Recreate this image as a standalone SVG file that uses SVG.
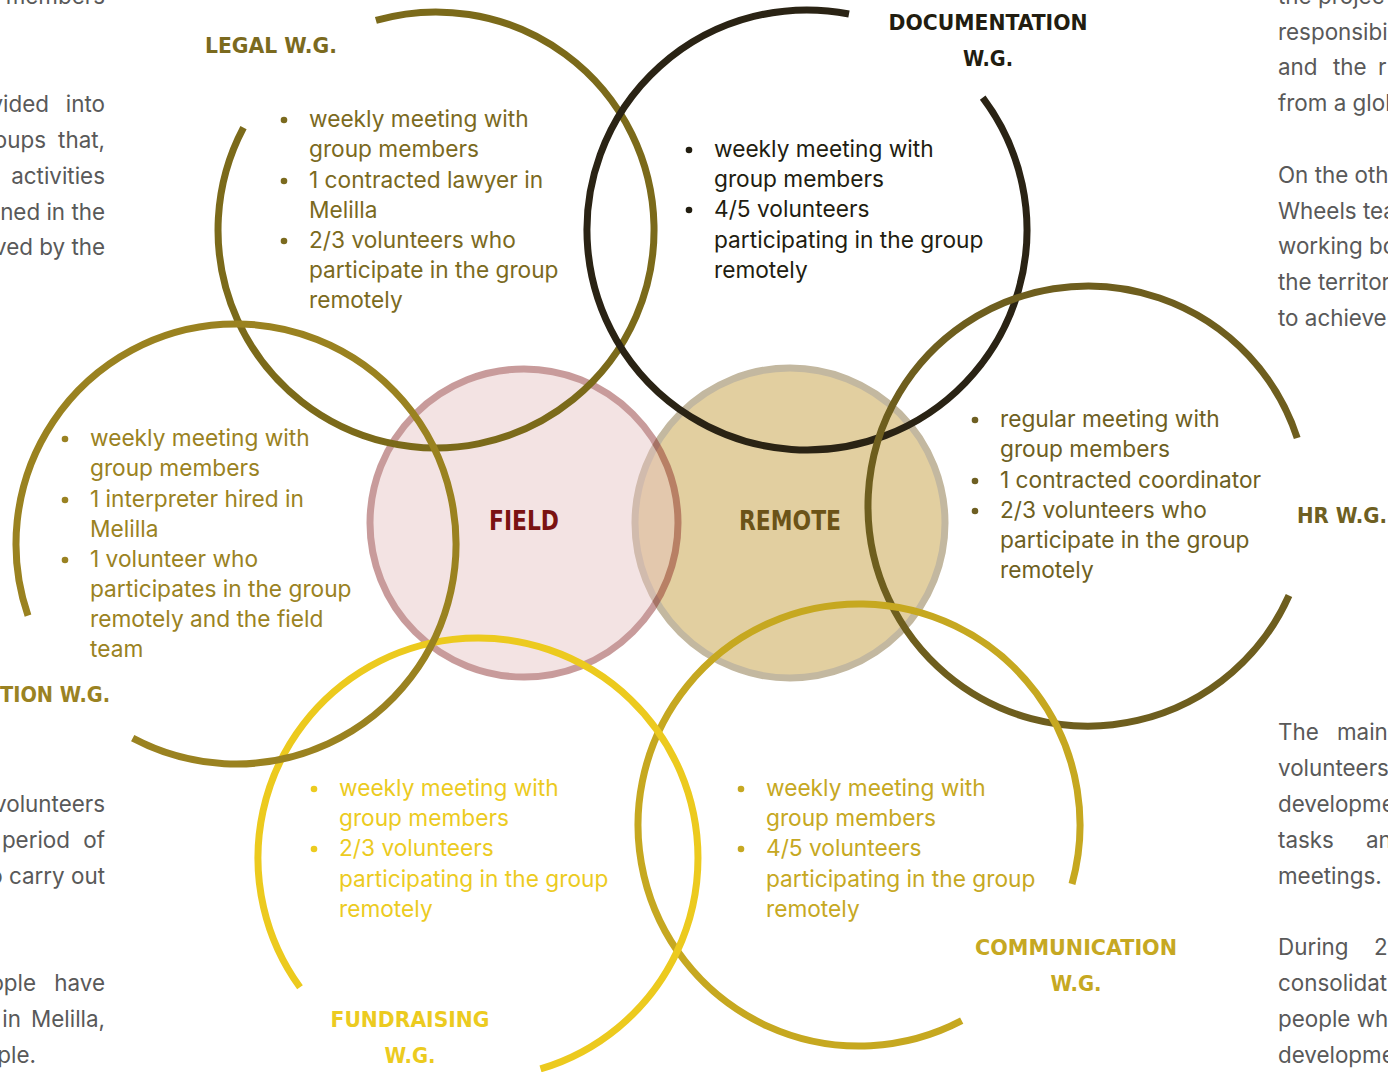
<svg xmlns="http://www.w3.org/2000/svg" width="1388" height="1072" viewBox="0 0 1388 1072">
<style>
.b{font-family:Inter,"Noto Sans","Liberation Sans",sans-serif;font-size:22.7px}
.s{font-family:Inter,"Noto Sans","Liberation Sans",sans-serif;font-size:22.4px;fill:#595959}
.h{font-family:"DejaVu Sans Condensed","DejaVu Sans","Liberation Sans",sans-serif;font-weight:bold;font-size:22px;text-anchor:middle}
.c{font-family:"DejaVu Sans Condensed","DejaVu Sans","Liberation Sans",sans-serif;font-weight:bold;font-size:27px;text-anchor:middle}
.ring{fill:none;stroke-width:7}
.e{text-anchor:end}
</style>
<rect width="1388" height="1072" fill="#ffffff"/>

<g id="side-left">
<text class="s e" x="105" y="4">members</text>
<text class="s e" x="49" y="112">vided</text><text class="s e" x="105" y="112">into</text>
<text class="s e" x="46" y="148">oups</text><text class="s e" x="105" y="148">that,</text>
<text class="s e" x="105" y="184">activities</text>
<text class="s e" x="105" y="220">ned in the</text>
<text class="s e" x="105" y="255">ved by the</text>
<text class="s e" x="105" y="812">volunteers</text>
<text class="s e" x="70" y="848">period</text><text class="s e" x="105" y="848">of</text>
<text class="s e" x="105" y="884">o carry out</text>
<text class="s e" x="36" y="991">ople</text><text class="s e" x="105" y="991">have</text>
<text class="s e" x="21" y="1027">in</text><text class="s e" x="105" y="1027">Melilla,</text>
<text class="s e" x="36" y="1063">ple.</text>
</g>

<g id="side-right">
<text class="s" x="1278" y="4">the</text><text class="s" x="1318" y="4">projec</text>
<text class="s" x="1278" y="40">responsibi</text>
<text class="s" x="1278" y="75">and</text><text class="s" x="1333" y="75">the</text><text class="s" x="1378" y="75">r</text>
<text class="s" x="1278" y="111">from a glob</text>
<text class="s" x="1278" y="183">On the oth</text>
<text class="s" x="1278" y="219">Wheels tea</text>
<text class="s" x="1278" y="254">working bo</text>
<text class="s" x="1278" y="290">the territor</text>
<text class="s" x="1278" y="326">to achieve</text>
<text class="s" x="1278" y="740">The</text><text class="s" x="1337" y="740">main</text>
<text class="s" x="1278" y="776">volunteers</text>
<text class="s" x="1278" y="812">developme</text>
<text class="s" x="1278" y="848">tasks</text><text class="s" x="1366" y="848">an</text>
<text class="s" x="1278" y="884">meetings.</text>
<text class="s" x="1278" y="955">During</text><text class="s" x="1374" y="955">2</text>
<text class="s" x="1278" y="991">consolidat</text>
<text class="s" x="1278" y="1027">people wh</text>
<text class="s" x="1278" y="1063">developme</text>
</g>

<g id="remote">
<circle cx="790" cy="523" r="155" fill="#e2cfa0" stroke="#c3b8a0" stroke-width="7"/>
</g>
<g id="field" opacity="0.43">
<circle cx="524" cy="523" r="154" fill="#e5bfbf" stroke="#821a1a" stroke-width="7"/>
</g>
<g id="center-labels">
<text class="c" x="524" y="530" fill="#7a1212" textLength="70" lengthAdjust="spacingAndGlyphs">FIELD</text>
<text class="c" x="790" y="530" fill="#6b5318" textLength="102" lengthAdjust="spacingAndGlyphs">REMOTE</text>
</g>

<g id="connectors">
<path class="ring" stroke="#7b6a1a" d="M375.9,20.4 A218 218 0 1 1 243.5,127.7"/>
<path class="ring" stroke="#2a2314" d="M982.7,97.6 A220 220 0 1 1 849,14"/>
<path class="ring" stroke="#6e5e1e" d="M1289,595.5 A220 220 0 1 1 1297.2,438"/>
<path class="ring" stroke="#c6a820" d="M961.7,1020.7 A221 221 0 1 1 1072,884"/>
<path class="ring" stroke="#ecca1e" d="M300,987.3 A220 220 0 1 1 540.5,1068.9"/>
<path class="ring" stroke="#9a8220" d="M28,615.6 A220 220 0 1 1 132.7,738.2"/>
</g>

<g id="legal" fill="#7b6a1e">
<text class="h" x="271" y="53" textLength="132" lengthAdjust="spacingAndGlyphs">LEGAL W.G.</text>
<circle cx="284" cy="120" r="3.3"/><circle cx="284" cy="181" r="3.3"/><circle cx="284" cy="241" r="3.3"/>
<text class="b" x="309" y="127">weekly meeting with</text>
<text class="b" x="309" y="157">group members</text>
<text class="b" x="309" y="188">1 contracted lawyer in</text>
<text class="b" x="309" y="218">Melilla</text>
<text class="b" x="309" y="248">2/3 volunteers who</text>
<text class="b" x="309" y="278">participate in the group</text>
<text class="b" x="309" y="308">remotely</text>
</g>

<g id="documentation" fill="#221d10">
<text class="h" x="988" y="30" textLength="199" lengthAdjust="spacingAndGlyphs">DOCUMENTATION</text>
<text class="h" x="988" y="66" textLength="50" lengthAdjust="spacingAndGlyphs">W.G.</text>
<circle cx="689" cy="150" r="3.3"/><circle cx="689" cy="210" r="3.3"/>
<text class="b" x="714" y="157">weekly meeting with</text>
<text class="b" x="714" y="187">group members</text>
<text class="b" x="714" y="217">4/5 volunteers</text>
<text class="b" x="714" y="248">participating in the group</text>
<text class="b" x="714" y="278">remotely</text>
</g>

<g id="hr" fill="#6e5f22">
<text class="h" x="1342" y="523" textLength="90" lengthAdjust="spacingAndGlyphs">HR W.G.</text>
<circle cx="975" cy="420" r="3.3"/><circle cx="975" cy="481" r="3.3"/><circle cx="975" cy="511" r="3.3"/>
<text class="b" x="1000" y="427">regular meeting with</text>
<text class="b" x="1000" y="457">group members</text>
<text class="b" x="1000" y="488">1 contracted coordinator</text>
<text class="b" x="1000" y="518">2/3 volunteers who</text>
<text class="b" x="1000" y="548">participate in the group</text>
<text class="b" x="1000" y="578">remotely</text>
</g>

<g id="interpretation" fill="#9a8222">
<text class="h" x="55" y="702" textLength="110" lengthAdjust="spacingAndGlyphs">TION W.G.</text>
<circle cx="65" cy="439" r="3.3"/><circle cx="65" cy="500" r="3.3"/><circle cx="65" cy="560" r="3.3"/>
<text class="b" x="90" y="446">weekly meeting with</text>
<text class="b" x="90" y="476">group members</text>
<text class="b" x="90" y="507">1 interpreter hired in</text>
<text class="b" x="90" y="537">Melilla</text>
<text class="b" x="90" y="567">1 volunteer who</text>
<text class="b" x="90" y="597">participates in the group</text>
<text class="b" x="90" y="627">remotely and the field</text>
<text class="b" x="90" y="657">team</text>
</g>

<g id="fundraising" fill="#eccb1f">
<text class="h" x="410" y="1027" textLength="159" lengthAdjust="spacingAndGlyphs">FUNDRAISING</text>
<text class="h" x="410" y="1063" textLength="51" lengthAdjust="spacingAndGlyphs">W.G.</text>
<circle cx="314" cy="789" r="3.3"/><circle cx="314" cy="849" r="3.3"/>
<text class="b" x="339" y="796">weekly meeting with</text>
<text class="b" x="339" y="826">group members</text>
<text class="b" x="339" y="856">2/3 volunteers</text>
<text class="b" x="339" y="887">participating in the group</text>
<text class="b" x="339" y="917">remotely</text>
</g>

<g id="communication" fill="#c6a822">
<text class="h" x="1076" y="955" textLength="202" lengthAdjust="spacingAndGlyphs">COMMUNICATION</text>
<text class="h" x="1076" y="991" textLength="51" lengthAdjust="spacingAndGlyphs">W.G.</text>
<circle cx="741" cy="789" r="3.3"/><circle cx="741" cy="849" r="3.3"/>
<text class="b" x="766" y="796">weekly meeting with</text>
<text class="b" x="766" y="826">group members</text>
<text class="b" x="766" y="856">4/5 volunteers</text>
<text class="b" x="766" y="887">participating in the group</text>
<text class="b" x="766" y="917">remotely</text>
</g>
</svg>
